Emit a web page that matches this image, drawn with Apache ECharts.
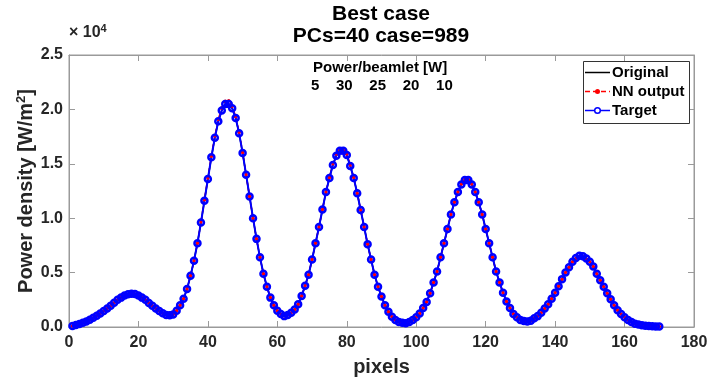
<!DOCTYPE html>
<html>
<head>
<meta charset="utf-8">
<script src="https://cdn.jsdelivr.net/npm/echarts@6/dist/echarts.min.js"></script>
<style>
  html, body { margin: 0; padding: 0; background: #fff; }
  #chart { width: 711px; height: 385px; }
</style>
</head>
<body>
<div id="chart"></div>
<script>
// power density in units of 1e4 W/m^2, one value per pixel (1..170)
const target = [
  0.010, 0.018, 0.028, 0.040, 0.050, 0.067, 0.085, 0.104, 0.125, 0.147,
  0.170, 0.196, 0.223, 0.250, 0.270, 0.290, 0.300, 0.306, 0.303, 0.290,
  0.270, 0.250, 0.220, 0.196, 0.170, 0.147, 0.126, 0.110, 0.107, 0.116,
  0.150, 0.200, 0.260, 0.350, 0.470, 0.610, 0.770, 0.960, 1.160, 1.360,
  1.560, 1.740, 1.890, 1.990, 2.050, 2.050, 2.010, 1.920, 1.780, 1.600,
  1.400, 1.200, 1.000, 0.810, 0.640, 0.490, 0.370, 0.270, 0.200, 0.150,
  0.120, 0.100, 0.110, 0.130, 0.160, 0.210, 0.285, 0.380, 0.480, 0.620,
  0.770, 0.920, 1.080, 1.240, 1.370, 1.490, 1.575, 1.620, 1.620, 1.580,
  1.480, 1.370, 1.230, 1.075, 0.920, 0.760, 0.620, 0.480, 0.370, 0.280,
  0.200, 0.140, 0.095, 0.065, 0.046, 0.040, 0.035, 0.045, 0.065, 0.090,
  0.125, 0.175, 0.230, 0.310, 0.410, 0.510, 0.640, 0.770, 0.900, 1.035,
  1.146, 1.240, 1.310, 1.350, 1.350, 1.310, 1.240, 1.146, 1.035, 0.900,
  0.770, 0.640, 0.510, 0.410, 0.315, 0.235, 0.175, 0.120, 0.090, 0.065,
  0.055, 0.050, 0.058, 0.080, 0.100, 0.130, 0.170, 0.210, 0.260, 0.315,
  0.375, 0.440, 0.500, 0.550, 0.600, 0.635, 0.655, 0.650, 0.630, 0.600,
  0.555, 0.490, 0.430, 0.370, 0.310, 0.255, 0.200, 0.155, 0.120, 0.090,
  0.065, 0.045, 0.030, 0.022, 0.016, 0.012, 0.009, 0.007, 0.005, 0.004
];

// original profile sits under the target curve
const original = target;

const nnOutput = [
  0.010, 0.018, 0.028, 0.040, 0.050, 0.067, 0.085, 0.104, 0.125, 0.147,
  0.170, 0.196, 0.223, 0.250, 0.270, 0.290, 0.302, 0.308, 0.304, 0.290,
  0.270, 0.250, 0.220, 0.196, 0.170, 0.147, 0.126, 0.110, 0.107, 0.116,
  0.150, 0.200, 0.260, 0.350, 0.470, 0.610, 0.770, 0.965, 1.170, 1.370,
  1.570, 1.755, 1.910, 2.015, 2.075, 2.080, 2.030, 1.935, 1.790, 1.605,
  1.400, 1.200, 1.000, 0.810, 0.640, 0.490, 0.370, 0.270, 0.200, 0.150,
  0.120, 0.100, 0.110, 0.130, 0.160, 0.210, 0.285, 0.380, 0.480, 0.620,
  0.770, 0.920, 1.080, 1.240, 1.375, 1.500, 1.590, 1.635, 1.635, 1.590,
  1.490, 1.375, 1.230, 1.075, 0.920, 0.760, 0.620, 0.480, 0.370, 0.280,
  0.200, 0.140, 0.095, 0.065, 0.046, 0.040, 0.035, 0.045, 0.065, 0.090,
  0.125, 0.175, 0.230, 0.310, 0.410, 0.510, 0.640, 0.770, 0.900, 1.035,
  1.146, 1.240, 1.315, 1.355, 1.355, 1.315, 1.240, 1.146, 1.035, 0.900,
  0.770, 0.640, 0.510, 0.410, 0.315, 0.235, 0.175, 0.120, 0.090, 0.065,
  0.055, 0.050, 0.058, 0.080, 0.100, 0.130, 0.170, 0.210, 0.260, 0.315,
  0.375, 0.440, 0.500, 0.550, 0.600, 0.630, 0.648, 0.645, 0.625, 0.600,
  0.555, 0.490, 0.430, 0.370, 0.310, 0.255, 0.200, 0.155, 0.120, 0.090,
  0.065, 0.045, 0.030, 0.022, 0.016, 0.012, 0.009, 0.007, 0.005, 0.004
];

const xTicks = [0, 20, 40, 60, 80, 100, 120, 140, 160, 180];
const yTicks = [0, 0.5, 1.0, 1.5, 2.0, 2.5];
const beamletPowers = [5, 30, 25, 20, 10];
const legendNames = ['Original', 'NN output', 'Target'];

function pairs(vals) {
  var out = [];
  for (var i = 0; i < vals.length; i++) out.push([i + 1, vals[i]]);
  return out;
}

var axisColor = '#9a9a9a';
var textColor = '#262626';
var font = 'Liberation Sans, Arial, sans-serif';

function axisBase(labelColor) {
  return {
    gridIndex: 0,
    axisLine: { show: true, onZero: false, lineStyle: { color: axisColor, width: 1 } },
    axisTick: { show: true, inside: true, length: 6, lineStyle: { color: axisColor, width: 1 } },
    splitLine: { show: false },
    axisLabel: {
      show: true, color: labelColor, fontWeight: 'bold',
      fontSize: 16, fontFamily: font, hideOverlap: false
    }
  };
}

var chart = echarts.init(document.getElementById('chart'), null, { renderer: 'canvas' });

// mirror axes keep invisible labels so every tick is laid out
var xb = axisBase(textColor);
var xt = axisBase('rgba(0,0,0,0)');
var yl = axisBase(textColor);
var yr = axisBase('rgba(0,0,0,0)');
yl.axisLabel.formatter = function (v) { return v.toFixed(1); };
yl.axisLabel.margin = 6;

// hand-drawn legend box, MATLAB style
var lgX = 583, lgY = 61, lgW = 106, lgH = 62;
var rowY = [72.5, 91.5, 110.5];
var legendGraphics = [
  { type: 'rect', shape: { x: lgX + 0.5, y: lgY + 0.5, width: lgW, height: lgH },
    style: { fill: '#fff', stroke: '#333', lineWidth: 1 }, z: 100 },
  { type: 'line', shape: { x1: 585, y1: rowY[0], x2: 610, y2: rowY[0] },
    style: { stroke: '#000', lineWidth: 1.5 }, z: 101 },
  { type: 'line', shape: { x1: 585, y1: rowY[1], x2: 610, y2: rowY[1] },
    style: { stroke: '#ff0000', lineWidth: 1.5, lineDash: [5, 3] }, z: 101 },
  { type: 'circle', shape: { cx: 597.5, cy: rowY[1], r: 2.5 },
    style: { fill: '#ff0000' }, z: 102 },
  { type: 'line', shape: { x1: 585, y1: rowY[2], x2: 610, y2: rowY[2] },
    style: { stroke: '#0000ff', lineWidth: 1.5 }, z: 101 },
  { type: 'circle', shape: { cx: 597.5, cy: rowY[2], r: 2.8 },
    style: { fill: '#fff', stroke: '#0000ff', lineWidth: 1.5 }, z: 102 }
];
legendNames.forEach(function (n, i) {
  legendGraphics.push({
    type: 'text', x: 612, y: rowY[i], z: 103,
    style: { text: n, fill: '#000', fontWeight: 'bold', fontSize: 15, fontFamily: font, verticalAlign: 'middle' }
  });
});

chart.setOption({
  animation: false,
  backgroundColor: '#fff',
  grid: {
    left: 69, right: 17, top: 55, bottom: 58, containLabel: false, outerBoundsMode: 'none',
    show: true, borderColor: axisColor, borderWidth: 1, backgroundColor: 'transparent'
  },
  xAxis: [
    Object.assign(xb, {
      type: 'value', position: 'bottom', min: xTicks[0], max: xTicks[xTicks.length - 1], interval: 20,
      name: 'pixels', nameLocation: 'middle', nameGap: 30, nameMoveOverlap: false,
      nameTextStyle: { color: textColor, fontWeight: 'bold', fontSize: 20, fontFamily: font }
    }),
    Object.assign(xt, {
      type: 'value', position: 'top', min: xTicks[0], max: xTicks[xTicks.length - 1], interval: 20
    })
  ],
  yAxis: [
    Object.assign(yl, {
      type: 'value', position: 'left', min: yTicks[0], max: yTicks[yTicks.length - 1], interval: 0.5,
      name: 'Power density [W/m{sup|2}]', nameLocation: 'middle', nameGap: 31, nameMoveOverlap: false,
      nameTextStyle: {
        color: textColor, fontWeight: 'bold', fontSize: 20, fontFamily: font,
        rich: { sup: { fontSize: 13, fontWeight: 'bold', color: textColor, verticalAlign: 'top', padding: [0, 0, 10, 0], fontFamily: font } }
      }
    }),
    Object.assign(yr, {
      type: 'value', position: 'right', min: yTicks[0], max: yTicks[yTicks.length - 1], interval: 0.5
    })
  ],
  series: [
    {
      // drawn on the mirror axes (same ranges) so the top/right ticks render
      name: 'Original', type: 'line', data: pairs(original),
      xAxisIndex: 1, yAxisIndex: 1,
      showSymbol: false, symbol: 'none',
      lineStyle: { color: '#000', width: 1.5 }, itemStyle: { color: '#000' }
    },
    {
      name: 'NN output', type: 'line', data: pairs(nnOutput),
      symbol: 'circle', symbolSize: 3.5, showAllSymbol: true,
      lineStyle: { color: '#ff0000', width: 1.5, type: [5, 3] },
      itemStyle: { color: '#ff0000' }
    },
    {
      name: 'Target', type: 'line', data: pairs(target),
      symbol: 'circle', symbolSize: 6, showAllSymbol: true,
      lineStyle: { color: '#0000ff', width: 2 },
      itemStyle: { color: 'rgba(0,0,255,0)', borderColor: '#0000ff', borderWidth: 2.5 }
    }
  ],
  graphic: [
    {
      type: 'text', x: 381, y: 3,
      style: {
        text: 'Best case\nPCs=40 case=989', align: 'center', textAlign: 'center', lineHeight: 22,
        fill: '#000', fontWeight: 'bold', fontSize: 21, fontFamily: font
      }
    },
    {
      type: 'text', x: 69, y: 23,
      style: {
        text: '× 10{s|4}', fill: textColor, fontWeight: 'bold', fontSize: 16, fontFamily: font,
        rich: { s: { fontSize: 11, fontWeight: 'bold', fontFamily: font, fill: textColor, verticalAlign: 'top', padding: [0, 0, 9, 0] } }
      }
    },
    {
      type: 'text', x: 313, y: 60,
      style: { text: 'Power/beamlet [W]', fill: '#000', fontWeight: 'bold', fontSize: 15, fontFamily: font }
    },
    {
      type: 'text', x: 311, y: 78,
      style: { text: beamletPowers.join('    '), fill: '#000', fontWeight: 'bold', fontSize: 15, fontFamily: font }
    }
  ].concat(legendGraphics)
});
</script>
</body>
</html>
